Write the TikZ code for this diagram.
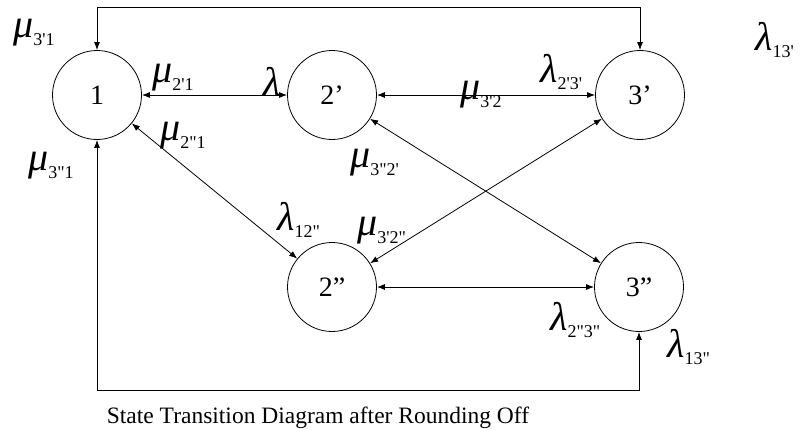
\documentclass[tikz,border=0pt]{standalone}
\usepackage{fontspec}
\setmainfont{Liberation Serif}
\newfontfamily\rawf{Liberation Serif}[Ligatures=TeXOff]
\newfontfamily\grk{Liberation Serif Italic}
\usetikzlibrary{arrows.meta}
\newcommand{\gl}[2]{{\grk\fontsize{40}{40}\selectfont #1}\raisebox{-7.5pt}{\rawf\fontsize{18}{18}\selectfont #2}}
\begin{document}
\begin{tikzpicture}[x=1pt,y=-1pt,
  st/.style={circle,draw,minimum size=89pt,inner sep=0pt,line width=0.8pt,font=\fontsize{28}{28}\selectfont},
  lab/.style={anchor=base west,inner sep=0pt},
  conn/.style={{Latex[length=8pt,width=6pt]}-{Latex[length=8pt,width=6pt]},line width=0.8pt}]
\useasboundingbox (0,0) rectangle (810,429);
\node[st] (n1) at (97,95) {1};
\node[st] (n2p) at (332,95) {2’};
\node[st] (n3p) at (640,95) {3’};
\node[st] (n2pp) at (332,287) {2”};
\node[st] (n3pp) at (639,287) {3”};
\coordinate (top) at (0,7);
\coordinate (bot) at (0,390);
\draw[conn] (n1.north) -- (n1.north |- top) -| (n3p.north);
\draw[conn] (n1.south) -- (n1.south |- bot) -| (n3pp.south);
\draw[conn] (n1) -- (n2p);
\draw[conn] (n2p) -- (n3p);
\draw[conn] (n2pp) -- (n3pp);
\draw[conn] (n1) -- (n2pp);
\draw[conn] (n2p) -- (n3pp);
\draw[conn] (n2pp) -- (n3p);
\node[lab] (l1) at (13,37.5) {\gl{μ}{3'1}};
\node[lab] (l2) at (152,82.5) {\gl{μ}{2'1}};
\node[lab] (l3) at (263,95) {\gl{λ}{}};
\node[lab] (l4) at (160,140.5) {\gl{μ}{2"1}};
\node[lab] (l5) at (28,170.5) {\gl{μ}{3"1}};
\node[lab] (l6) at (460,99.5) {\gl{μ}{3'2}};
\node[lab] (l7) at (540,82) {\gl{λ}{2'3'}};
\node[lab] (l8) at (350,167.5) {\gl{μ}{3"2'}};
\node[lab] (l9) at (277,230) {\gl{λ}{12"}};
\node[lab] (l10) at (357,235.5) {\gl{μ}{3'2"}};
\node[lab] (l11) at (550,330) {\gl{λ}{2"3"}};
\node[lab] (l12) at (667,357) {\gl{λ}{13"}};
\node[lab] (l13) at (755,50) {\gl{λ}{13'}};
\node[anchor=base,inner sep=0pt] (cap) at (318,423) {\fontsize{23.5}{23.5}\selectfont State Transition Diagram after Rounding Off};
\end{tikzpicture}
\end{document}
